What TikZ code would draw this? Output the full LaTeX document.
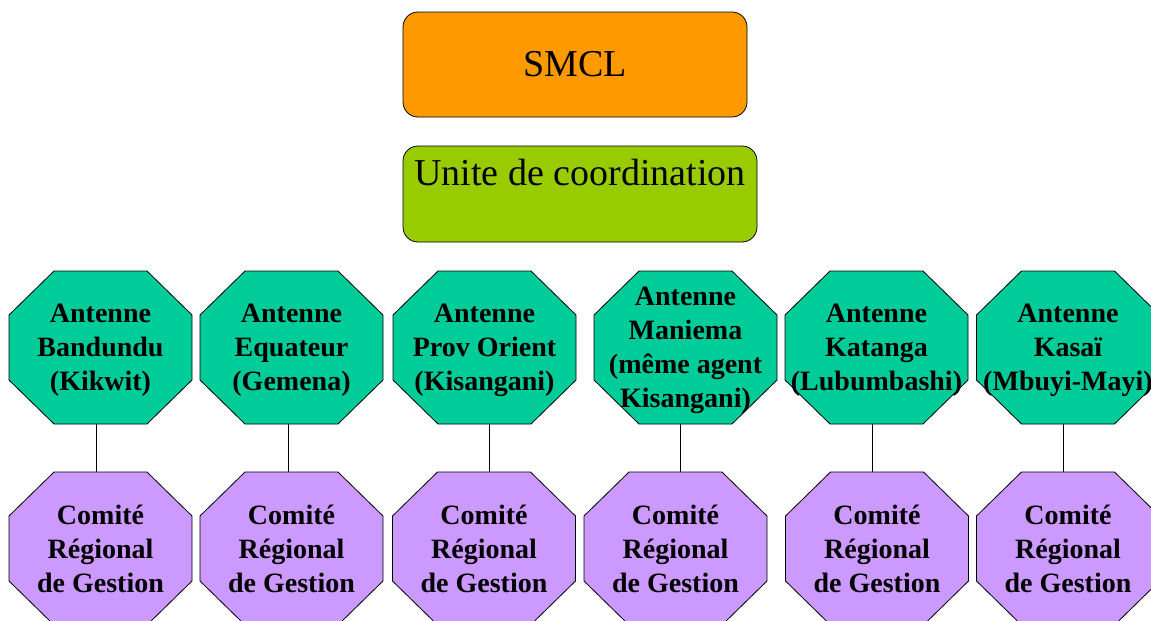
\documentclass[tikz,border=0pt]{standalone}
\usepackage{fontspec}
\setmainfont{Liberation Serif}[BoldFont={Liberation Serif Bold}]
\newfontfamily\octfont{Liberation Serif Bold}
\definecolor{smclc}{HTML}{FF9900}
\definecolor{unitec}{HTML}{99CC00}
\definecolor{antenc}{HTML}{00CC99}
\definecolor{comitec}{HTML}{CC99FF}
\tikzset{
  topbox/.style={draw=black, line width=0.8pt, rounded corners=15pt, inner sep=0pt,
    font=\fontsize{38}{44}\selectfont},
  octtext/.style={inner sep=0pt, align=center, minimum width=183pt, minimum height=153pt,
    font=\octfont\fontsize{28}{34}\selectfont},
  octline/.style={draw=black, line width=0.8pt},
  link/.style={draw=black, line width=1pt},
}
% #1 name, #2 x, #3 y of octagon centre, #4 fill, #5 text, #6 text y
\newcommand\octnode[6]{%
  \path[octline, fill=#4, shift={(#2,#3)}]
    (-46.5,-76.5) -- (46.5,-76.5) -- (91.5,-32.5) -- (91.5,32.5) --
    (46.5,76.5) -- (-46.5,76.5) -- (-91.5,32.5) -- (-91.5,-32.5) -- cycle;
  \node[octtext] (#1) at (#2,#6) {#5};%
}
\begin{document}
\begin{tikzpicture}[x=1pt, y=-1pt]
\useasboundingbox[fill=white] (0,0) rectangle (1151,621);

\node[topbox, fill=smclc, minimum width=344pt, minimum height=105pt] (smcl) at (575,64.5) {SMCL};
\node[topbox, fill=unitec, minimum width=354pt, minimum height=96pt,
      text height=26pt, text depth=44pt] (uc) at (580,194) {Unite de coordination};

\octnode{a1}{100.5}{347.5}{antenc}{Antenne\\Bandundu\\(Kikwit)}{350}
\octnode{a2}{291.5}{347.5}{antenc}{Antenne\\Equateur\\(Gemena)}{350}
\octnode{a3}{484.5}{347.5}{antenc}{Antenne\\Prov Orient\\(Kisangani)}{350}
\octnode{a4}{685.5}{347.5}{antenc}{Antenne\\Maniema\\(même agent\\Kisangani)}{350}
\octnode{a5}{876.5}{347.5}{antenc}{Antenne\\Katanga\\(Lubumbashi)}{350}
\octnode{a6}{1068}{347.5}{antenc}{Antenne\\Kasaï\\(Mbuyi-Mayi)}{350}

\octnode{c1}{100.5}{548.5}{comitec}{Comité\\Régional\\de Gestion}{548.5}
\octnode{c2}{291.5}{548.5}{comitec}{Comité\\Régional\\de Gestion}{548.5}
\octnode{c3}{484}{548.5}{comitec}{Comité\\Régional\\de Gestion}{548.5}
\octnode{c4}{675.5}{548.5}{comitec}{Comité\\Régional\\de Gestion}{548.5}
\octnode{c5}{877}{548.5}{comitec}{Comité\\Régional\\de Gestion}{548.5}
\octnode{c6}{1068}{548.5}{comitec}{Comité\\Régional\\de Gestion}{548.5}

\draw[link] ([xshift=-4.5pt,yshift=2.5pt]a1.south) -- ([xshift=-4.5pt]c1.north);
\draw[link] ([xshift=-3.5pt,yshift=2.5pt]a2.south) -- ([xshift=-3.5pt]c2.north);
\draw[link] ([xshift=4.5pt,yshift=2.5pt]a3.south) -- ([xshift=5pt]c3.north);
\draw[link] ([xshift=-5.5pt,yshift=2.5pt]a4.south) -- ([xshift=4.5pt]c4.north);
\draw[link] ([xshift=-4.5pt,yshift=2.5pt]a5.south) -- ([xshift=-5pt]c5.north);
\draw[link] ([xshift=-5pt,yshift=2.5pt]a6.south) -- ([xshift=-5pt]c6.north);
\end{tikzpicture}
\end{document}
